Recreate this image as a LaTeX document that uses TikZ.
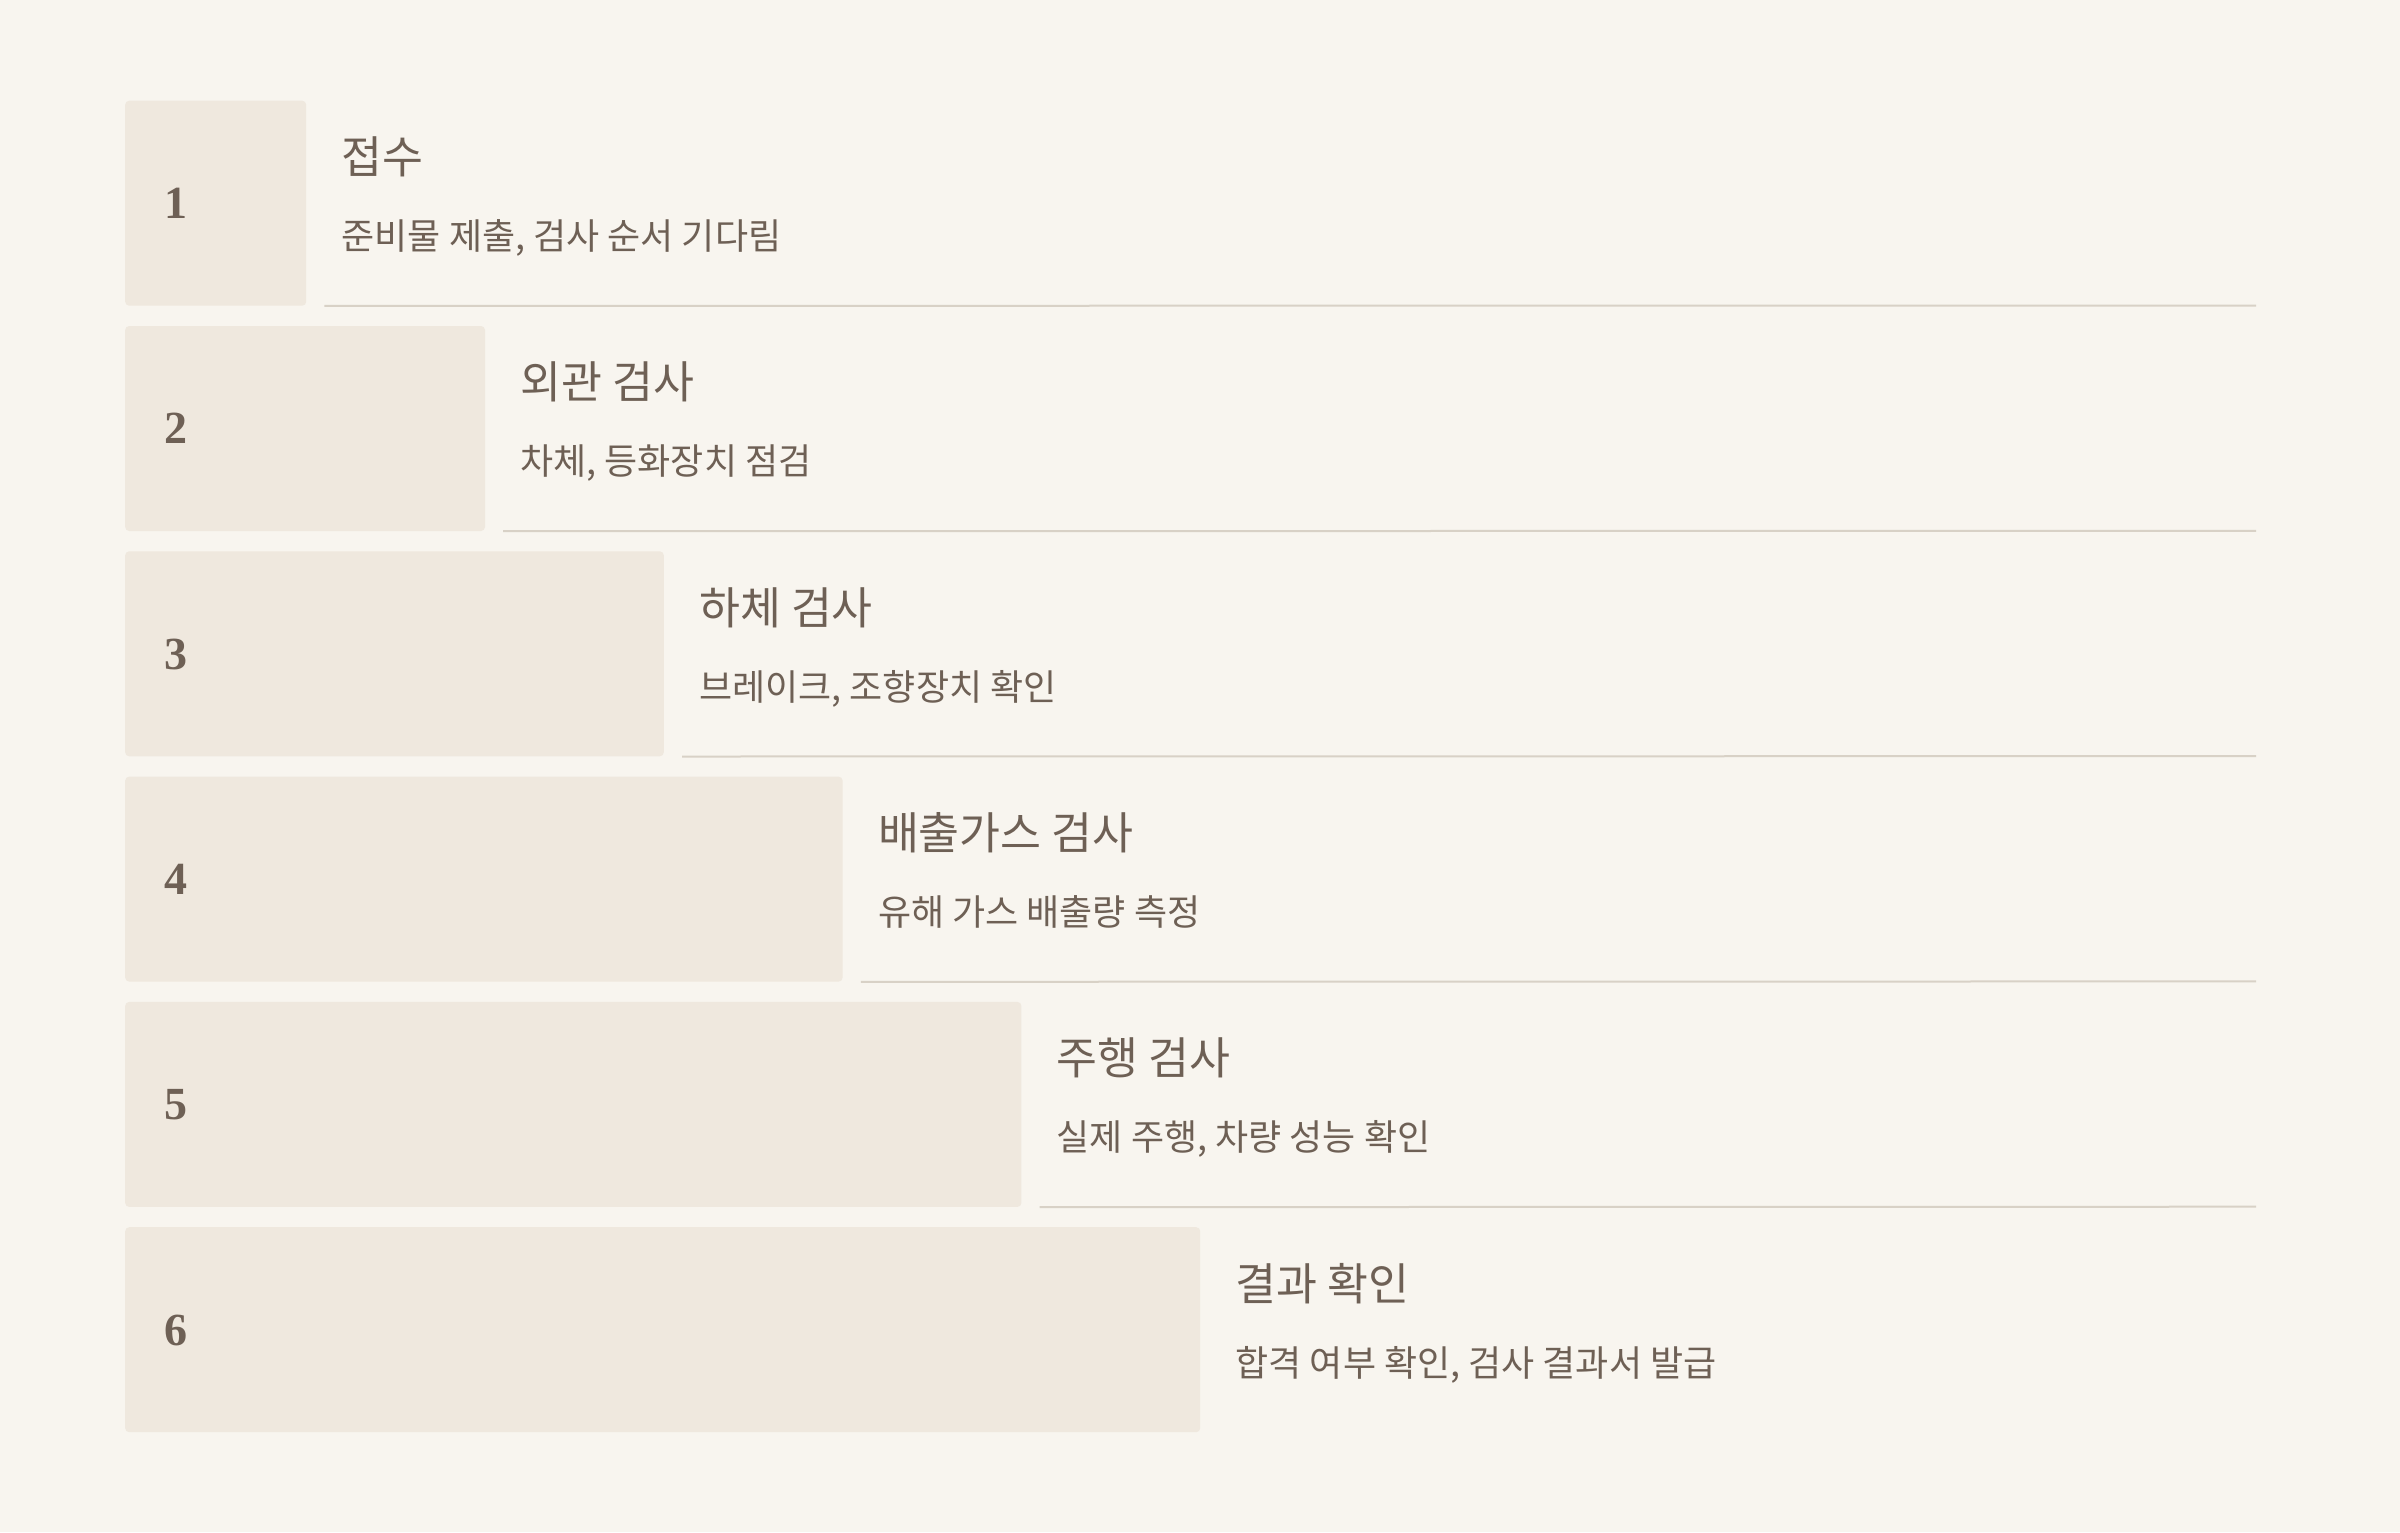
\documentclass[tikz,border=0pt]{standalone}
\usepackage{fontspec}
\setmainfont{Liberation Serif}
\newfontfamily\krfont{Noto Sans CJK KR}
\definecolor{bgc}{HTML}{F8F5EF}
\definecolor{boxc}{HTML}{EFE8DE}
\definecolor{inkc}{HTML}{6E6055}
\definecolor{rulec}{HTML}{D8D1C6}
\tikzset{
  stepbox/.style={fill=boxc, draw=none, rounded corners=4pt, minimum height=205pt, inner sep=0pt},
  numtext/.style={text=inkc, inner sep=0pt, font=\fontsize{46}{50}\selectfont\bfseries},
  titletext/.style={text=inkc, inner sep=0pt, font=\krfont\fontsize{44.5}{50}\selectfont},
  subtext/.style={text=inkc, inner sep=0pt, font=\krfont\fontsize{36}{42}\selectfont},
  rulestyle/.style={draw=rulec, line width=2pt}
}
\newcommand\steprow[4]{%
  \pgfmathsetmacro\rowtop{100.5+225.3*#1}%
  \pgfmathsetmacro\boxw{181+178.8*#1}%
  \node[stepbox, minimum width=\boxw pt, anchor=north west] (b#2) at (125,\rowtop) {};
  \node[numtext, anchor=base west] (n#2) at ([xshift=39pt,yshift=-118pt]b#2.north west) {#2};
  \node[titletext, anchor=base west] (t#2) at ([xshift=35pt,yshift=-73pt]b#2.north east) {#3};
  \node[subtext, anchor=base west] (s#2) at ([xshift=35pt,yshift=-149pt]b#2.north east) {#4};
  \coordinate (ls#2) at ([xshift=18pt]b#2.south east);
  \coordinate (le#2) at (2256,\rowtop+205);
}
\begin{document}
\begin{tikzpicture}[x=1pt,y=-1pt]
\fill[bgc] (0,0) rectangle (2400,1532);
\useasboundingbox (0,0) rectangle (2400,1532);
\steprow{0}{1}{접수}{준비물 제출, 검사 순서 기다림}
\draw[rulestyle] (ls1) -- (le1);
\steprow{1}{2}{외관 검사}{차체, 등화장치 점검}
\draw[rulestyle] (ls2) -- (le2);
\steprow{2}{3}{하체 검사}{브레이크, 조향장치 확인}
\draw[rulestyle] (ls3) -- (le3);
\steprow{3}{4}{배출가스 검사}{유해 가스 배출량 측정}
\draw[rulestyle] (ls4) -- (le4);
\steprow{4}{5}{주행 검사}{실제 주행, 차량 성능 확인}
\draw[rulestyle] (ls5) -- (le5);
\steprow{5}{6}{결과 확인}{합격 여부 확인, 검사 결과서 발급}
\end{tikzpicture}
\end{document}
